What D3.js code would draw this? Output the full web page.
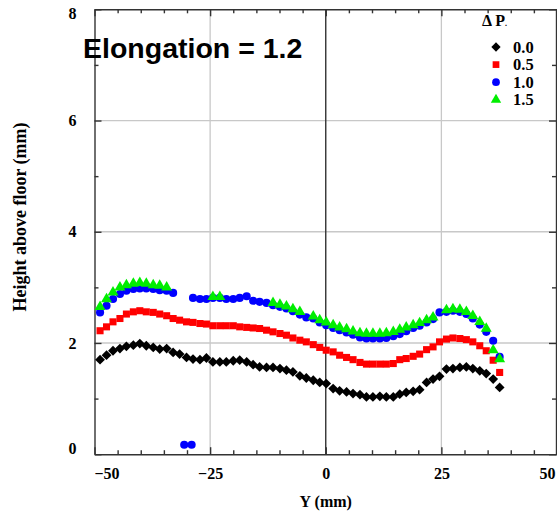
<!DOCTYPE html>
<html>
<head>
<meta charset="utf-8">
<script src="https://cdn.jsdelivr.net/npm/d3@7"></script>
<style>
  html, body { margin: 0; padding: 0; background: #fff; }
  svg { display: block; }
</style>
</head>
<body>
<svg id="chart" width="557" height="516"></svg>
<script>
// Lateral measurement positions Y (mm), shared by all pressure series
const positions = [
  -48.8, -47.4, -46.0, -44.5, -43.1, -41.6, -40.2, -38.8, -37.3, -35.9,
  -34.4, -33.0, -31.6, -30.1, -28.7, -27.2, -25.8, -24.4, -22.9, -21.5,
  -20.0, -18.6, -17.1, -15.7, -14.3, -12.8, -11.4, -9.9, -8.5, -7.1,
  -5.6, -4.2, -2.7, -1.3, 0.1, 1.6, 3.0, 4.5, 5.9, 7.4,
  8.8, 10.2, 11.7, 13.1, 14.6, 16.0, 17.4, 18.9, 20.3, 21.8,
  23.2, 24.6, 26.1, 27.5, 29.0, 30.4, 31.8, 33.3, 34.7, 36.2, 37.6
];

// Height above floor (mm) for each pressure difference; null = no reading
const heightP00 = [
  1.70, 1.78, 1.86, 1.90, 1.94, 1.96, 1.99, 1.95, 1.92, 1.89,
  1.90, 1.83, 1.80, 1.74, 1.71, 1.70, 1.73, 1.66, 1.66, 1.66,
  1.68, 1.69, 1.66, 1.61, 1.57, 1.56, 1.56, 1.54, 1.51, 1.48,
  1.41, 1.37, 1.33, 1.29, 1.27, 1.18, 1.14, 1.12, 1.09, 1.07,
  1.03, 1.03, 1.04, 1.03, 1.03, 1.08, 1.11, 1.13, 1.16, 1.29,
  1.35, 1.40, 1.53, 1.54, 1.56, 1.57, 1.54, 1.50, 1.45, 1.35, 1.20
];
const heightP05 = [
  2.22, 2.29, 2.38, 2.44, 2.52, 2.56, 2.58, 2.56, 2.55, 2.52,
  2.49, 2.44, 2.41, 2.38, 2.37, 2.35, 2.34, 2.31, 2.31, 2.31,
  2.31, 2.29, 2.28, 2.27, 2.26, 2.23, 2.20, 2.17, 2.14, 2.09,
  2.05, 2.02, 1.97, 1.92, 1.87, 1.84, 1.78, 1.74, 1.70, 1.65,
  1.62, 1.62, 1.62, 1.62, 1.63, 1.70, 1.72, 1.76, 1.80, 1.88,
  1.93, 2.02, 2.07, 2.09, 2.08, 2.06, 2.02, 1.95, 1.86, 1.69, 1.47
];
const heightP10 = [
  2.55, 2.67, 2.79, 2.88, 2.94, 2.97, 2.98, 2.98, 2.97, 2.95,
  2.94, 2.90, null, null, 2.81, 2.79, 2.79, 2.81, 2.81, 2.79,
  2.79, 2.81, 2.84, 2.76, 2.74, 2.72, 2.68, 2.65, 2.62, 2.57,
  2.51, 2.46, 2.44, 2.37, 2.32, 2.27, 2.23, 2.19, 2.15, 2.10,
  2.08, 2.08, 2.08, 2.09, 2.12, 2.16, 2.21, 2.27, 2.31, 2.37,
  2.43, 2.55, 2.56, 2.58, 2.56, 2.52, 2.44, 2.33, 2.20, 2.04, 1.75
];
const heightP15 = [
  2.65, 2.79, 2.91, 3.00, 3.04, 3.07, 3.08, 3.07, 3.04, 3.03,
  3.00, null, null, null, null, null, null, 2.83, 2.83, null,
  null, null, null, null, null, null, 2.72, 2.69, 2.66, 2.61,
  2.56, null, 2.48, 2.41, 2.37, 2.32, 2.28, 2.25, 2.21, 2.18,
  2.17, 2.17, 2.17, 2.18, 2.20, 2.24, 2.28, 2.32, 2.36, 2.41,
  2.46, null, 2.59, 2.61, 2.60, 2.56, 2.49, 2.38, 2.26, 1.87, 1.71
];
// Two dropout readings of the ΔP = 1.0 series near the floor
const dropoutPos = [-30.6, -29.0];
const dropoutHeight = [0.17, 0.17];

const legendLabels = ["0.0", "0.5", "1.0", "1.5"];
const xMajorTicks = [-50, -25, 0, 25, 50];
const yMajorTicks = [0, 2, 4, 6, 8];

const svg = d3.select("#chart");
const serif = "'Liberation Serif', 'Times New Roman', serif";

const x = d3.scaleLinear().domain([-50, 50]).range([94.5, 557]);
const y = d3.scaleLinear().domain([0, 8]).range([454.2, 9.3]);

const xMinor = d3.range(-50, 51, 5).filter(v => !xMajorTicks.includes(v));
const yMinor = d3.range(0, 9, 1).filter(v => !yMajorTicks.includes(v));

// grid lines
const grid = svg.append("g");
[-25, 25].forEach(v => grid.append("line")
  .attr("x1", x(v)).attr("x2", x(v)).attr("y1", y(0)).attr("y2", y(8))
  .attr("stroke", "#c8c8c8").attr("stroke-width", 1.3));
[2, 4, 6].forEach(v => grid.append("line")
  .attr("x1", x(-50)).attr("x2", x(50)).attr("y1", y(v)).attr("y2", y(v))
  .attr("stroke", "#c8c8c8").attr("stroke-width", 1.3));
grid.append("line")
  .attr("x1", x(0)).attr("x2", x(0)).attr("y1", y(0)).attr("y2", y(8))
  .attr("stroke", "#333").attr("stroke-width", 1.4);

// frame with inward ticks on all four sides
function styleAxis(g) {
  g.selectAll("path.domain").attr("stroke", "#333").attr("stroke-width", 1.4);
  g.selectAll(".tick line").attr("stroke", "#333").attr("stroke-width", 1.4);
}
const axisBottomG = svg.append("g").attr("transform", `translate(0,${y(0)})`)
  .call(d3.axisBottom(x).tickValues(xMajorTicks).tickSizeInner(-7).tickSizeOuter(0).tickPadding(13));
axisBottomG.call(styleAxis);
axisBottomG.selectAll("text").attr("font-family", serif).attr("font-weight", "bold")
  .attr("font-size", 16).attr("fill", "#000")
  .attr("text-anchor", d => d === -50 ? "start" : d === 50 ? "end" : "middle")
  .attr("dx", d => d === -50 ? -0.5 : d === 50 ? -2 : 0);
svg.append("g").attr("transform", `translate(0,${y(0)})`)
  .call(d3.axisBottom(x).tickValues(xMinor).tickSize(-4).tickFormat(""))
  .call(g => g.select(".domain").remove()).call(styleAxis);

const axisTopG = svg.append("g").attr("transform", `translate(0,${y(8)})`)
  .call(d3.axisTop(x).tickValues(xMajorTicks).tickSizeInner(-7).tickSizeOuter(0).tickFormat(""));
axisTopG.call(styleAxis);
svg.append("g").attr("transform", `translate(0,${y(8)})`)
  .call(d3.axisTop(x).tickValues(xMinor).tickSize(-4).tickFormat(""))
  .call(g => g.select(".domain").remove()).call(styleAxis);

const axisLeftG = svg.append("g").attr("transform", `translate(${x(-50)},0)`)
  .call(d3.axisLeft(y).tickValues(yMajorTicks).tickSizeInner(-7).tickSizeOuter(0).tickPadding(18));
axisLeftG.call(styleAxis);
axisLeftG.selectAll("text").attr("font-family", serif).attr("font-weight", "bold")
  .attr("font-size", 16).attr("fill", "#000")
  .attr("dy", d => d === 0 ? "-0.05em" : d === 8 ? "0.6em" : "0.32em");
svg.append("g").attr("transform", `translate(${x(-50)},0)`)
  .call(d3.axisLeft(y).tickValues(yMinor).tickSize(-4).tickFormat(""))
  .call(g => g.select(".domain").remove()).call(styleAxis);

const axisRightG = svg.append("g").attr("transform", `translate(${x(50) - 1},0)`)
  .call(d3.axisRight(y).tickValues(yMajorTicks).tickSizeInner(-7).tickSizeOuter(0).tickFormat(""));
axisRightG.call(styleAxis);
svg.append("g").attr("transform", `translate(${x(50) - 1},0)`)
  .call(d3.axisRight(y).tickValues(yMinor).tickSize(-4).tickFormat(""))
  .call(g => g.select(".domain").remove()).call(styleAxis);

// axis titles
svg.append("text").attr("x", x(0)).attr("y", 507)
  .attr("text-anchor", "middle").attr("font-family", serif).attr("font-weight", "bold")
  .attr("font-size", 16).text("Y (mm)");
svg.append("text").attr("transform", "translate(26,217) rotate(-90)")
  .attr("text-anchor", "middle").attr("font-family", serif).attr("font-weight", "bold")
  .attr("font-size", 18).text("Height above floor (mm)");

// plot heading
svg.append("text").attr("x", 83).attr("y", 58)
  .attr("font-family", "'Liberation Sans', Arial, sans-serif").attr("font-weight", "bold")
  .attr("font-size", 28.5).text("Elongation = 1.2");

// series (diamonds are squares turned by 45 degrees)
const series = [
  { label: legendLabels[0], values: heightP00, color: "#000000", shape: d3.symbolSquare, size: 48, rotate: 45 },
  { label: legendLabels[1], values: heightP05, color: "#ff0000", shape: d3.symbolSquare, size: 50, rotate: 0 },
  { label: legendLabels[2], values: heightP10, color: "#0000ff", shape: d3.symbolCircle, size: 52, rotate: 0 },
  { label: legendLabels[3], values: heightP15, color: "#00ee00", shape: d3.symbolTriangle, size: 52, rotate: 0 }
];

const plot = svg.append("g");
series.forEach((s, i) => {
  let pts = positions.map((p, j) => [p, s.values[j]]).filter(d => d[1] != null);
  if (i === 2) pts = pts.concat(dropoutPos.map((p, j) => [p, dropoutHeight[j]]));
  const sym = d3.symbol().type(s.shape).size(s.size);
  plot.append("g").selectAll("path").data(pts).join("path")
    .attr("d", sym)
    .attr("transform", d => `translate(${x(d[0])},${y(d[1])}) rotate(${s.rotate})`)
    .attr("fill", s.color);
});

// legend
const legend = svg.append("g");
legend.append("text").attr("x", 482).attr("y", 26)
  .attr("font-family", serif).attr("font-weight", "bold").attr("font-size", 16)
  .text("Δ P").append("tspan").attr("font-size", 8).text(".");
series.forEach((s, i) => {
  const cy = 47 + i * 17.6;
  legend.append("path").attr("d", d3.symbol().type(s.shape).size(s.size * 0.9)())
    .attr("transform", `translate(496,${cy}) rotate(${s.rotate})`).attr("fill", s.color);
  legend.append("text").attr("x", 513).attr("y", cy + 5.5)
    .attr("font-family", serif).attr("font-weight", "bold").attr("font-size", 16.5)
    .text(s.label);
});
</script>
</body>
</html>
